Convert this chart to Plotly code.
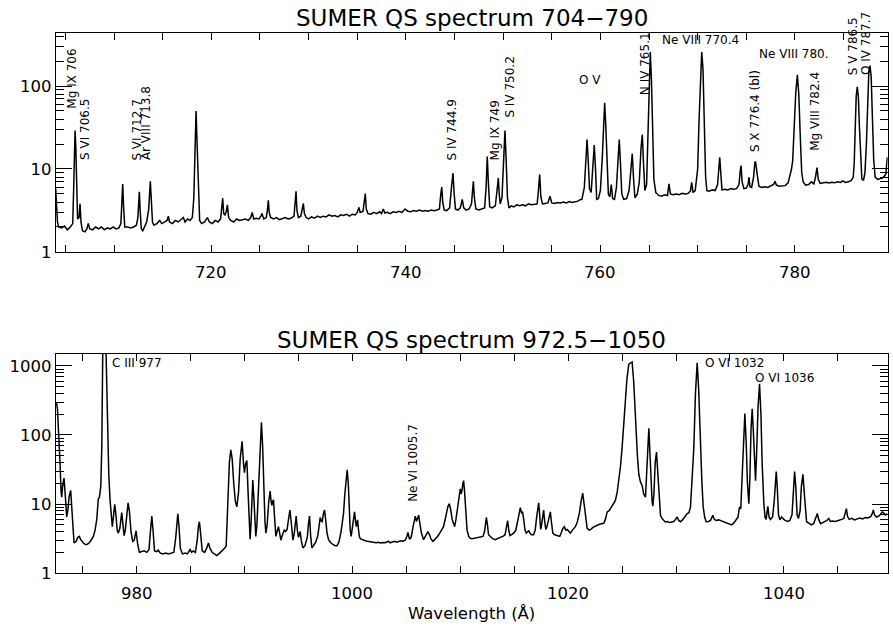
import plotly.graph_objects as go

# ---------------- data ----------------
top_wl = [
    704.00, 704.08, 704.18, 704.30, 704.6, 704.9, 705.2, 705.5, 705.75, 705.85,
    705.93, 705.99, 706.07, 706.16, 706.25, 706.40, 706.50, 706.60, 706.75, 707.0,
    707.2, 707.35, 707.5, 707.8, 708.1, 708.4, 708.7, 709.0, 709.3, 709.6,
    709.9, 710.2, 710.5, 710.7, 710.8, 710.89, 710.98, 711.1, 711.4, 711.7,
    712.0, 712.3, 712.45, 712.53, 712.60, 712.68, 712.8, 712.95, 713.1, 713.35,
    713.55, 713.65, 713.73, 713.82, 713.95, 714.1, 714.4, 714.7, 714.9, 715.2,
    715.45, 715.58, 715.7, 716.0, 716.3, 716.6, 716.9, 717.12, 717.3, 717.55,
    717.8, 718.05, 718.2, 718.3, 718.43, 718.55, 718.68, 718.8, 719.0, 719.3,
    719.6, 719.8, 720.1, 720.4, 720.7, 720.95, 721.08, 721.17, 721.27, 721.4,
    721.55, 721.65, 721.78, 722.0, 722.3, 722.6, 722.9, 723.2, 723.5, 723.8,
    724.05, 724.21, 724.35, 724.6, 724.9, 725.1, 725.2, 725.4, 725.65, 725.78,
    725.86, 725.95, 726.1, 726.4, 726.7, 727.0, 727.3, 727.6, 727.9, 728.2,
    728.5, 728.62, 728.71, 728.8, 728.95, 729.2, 729.35, 729.46, 729.57, 729.75,
    730.0, 730.3, 730.6, 730.9, 731.2, 731.5, 731.8, 732.1, 732.4, 732.7,
    733.0, 733.3, 733.6, 733.9, 734.2, 734.5, 734.8, 735.0, 735.18, 735.3,
    735.6, 735.75, 735.83, 735.93, 736.1, 736.4, 736.7, 737.0, 737.3, 737.5,
    737.68, 737.85, 738.1, 738.4, 738.7, 739.0, 739.3, 739.6, 739.91, 740.2,
    740.5, 740.8, 741.1, 741.4, 741.7, 742.0, 742.3, 742.6, 742.9, 743.2,
    743.45, 743.58, 743.69, 743.8, 743.95, 744.2, 744.5, 744.72, 744.85, 744.97,
    745.1, 745.35, 745.6, 745.8, 745.95, 746.2, 746.5, 746.75, 746.85, 746.94,
    747.05, 747.2, 747.5, 747.8, 748.1, 748.25, 748.37, 748.48, 748.62, 748.85,
    749.2, 749.42, 749.51, 749.6, 749.7, 749.88, 750.05, 750.19, 750.32, 750.45,
    750.6, 750.85, 751.1, 751.4, 751.7, 752.0, 752.3, 752.6, 752.9, 753.2,
    753.5, 753.63, 753.76, 753.88, 754.05, 754.3, 754.6, 754.82, 755.0, 755.3,
    755.6, 755.9, 756.2, 756.5, 756.8, 757.1, 757.4, 757.7, 757.95, 758.1,
    758.35, 758.5, 758.63, 758.76, 758.88, 759.05, 759.22, 759.37, 759.5, 759.62,
    759.8, 760.0, 760.2, 760.35, 760.44, 760.55, 760.68, 760.82, 760.97, 761.12,
    761.26, 761.45, 761.65, 761.82, 761.94, 762.06, 762.2, 762.4, 762.7, 762.95,
    763.15, 763.28, 763.4, 763.55, 763.8, 764.0, 764.18, 764.31, 764.43, 764.57,
    764.75, 764.9, 765.0, 765.13, 765.25, 765.37, 765.5, 765.7, 766.0, 766.3,
    766.6, 766.9, 767.05, 767.2, 767.5, 767.8, 768.1, 768.4, 768.7, 769.0,
    769.25, 769.39, 769.52, 769.75, 770.0, 770.15, 770.3, 770.42, 770.55, 770.68,
    770.82, 770.95, 771.2, 771.5, 771.8, 772.05, 772.18, 772.27, 772.38, 772.5,
    772.8, 773.1, 773.4, 773.7, 774.0, 774.25, 774.38, 774.46, 774.57, 774.75,
    775.0, 775.18, 775.28, 775.38, 775.55, 775.75, 775.88, 775.95, 776.1, 776.3,
    776.6, 776.9, 777.2, 777.5, 777.8, 777.95, 778.1, 778.4, 778.7, 779.0,
    779.3, 779.49, 779.65, 779.77, 779.92, 780.08, 780.25, 780.4, 780.55, 780.7,
    780.85, 781.1, 781.4, 781.7, 781.95, 782.12, 782.27, 782.4, 782.6, 782.9,
    783.2, 783.5, 783.8, 784.1, 784.4, 784.7, 784.9, 785.2, 785.5, 785.8,
    786.0, 786.1, 786.2, 786.3, 786.41, 786.52, 786.62, 786.75, 786.88, 787.05,
    787.2, 787.35, 787.48, 787.6, 787.72, 787.84, 787.96, 788.1, 788.25, 788.5,
    788.8, 789.0, 789.2, 789.35, 789.5,
]
top_flux = [
    5.8, 4.0, 2.3, 2.0, 1.95, 2.05, 1.85, 2.0, 2.2, 6.0,
    18, 29, 18, 5, 2.5, 2.6, 3.8, 2.3, 1.8, 1.75,
    1.9, 2.2, 1.9, 1.85, 2.0, 1.9, 2.0, 1.85, 1.95, 1.9,
    2.0, 1.9, 1.95, 2.2, 4.0, 6.6, 3.5, 2.0, 2.0, 1.95,
    2.0, 2.1, 2.6, 4.3, 5.3, 3.2, 1.9, 1.8, 2.0, 2.3,
    3.2, 5.5, 7.1, 4.5, 2.3, 2.1, 2.2, 2.4, 2.2, 2.3,
    2.4, 2.7, 2.3, 2.2, 2.4, 2.3, 2.5, 2.6, 2.3, 2.5,
    2.4, 2.6, 4.5, 15, 50, 18, 4, 2.4, 2.2, 2.3,
    2.6, 2.3, 2.2, 2.4, 2.3, 2.5, 3.5, 4.45, 2.9, 2.8,
    3.1, 3.7, 2.6, 2.4, 2.3, 2.5, 2.4, 2.45, 2.5, 2.4,
    2.6, 3.0, 2.5, 2.55, 2.5, 2.7, 2.9, 2.5, 2.6, 3.3,
    4.2, 3.0, 2.6, 2.5, 2.6, 2.45, 2.55, 2.6, 2.5, 2.55,
    2.7, 4.0, 5.4, 3.2, 2.6, 2.7, 3.2, 3.84, 2.9, 2.6,
    2.5, 2.65, 2.55, 2.7, 2.6, 2.7, 2.65, 2.8, 2.7, 2.75,
    2.65, 2.8, 2.75, 2.85, 2.7, 2.85, 2.8, 3.0, 3.45, 3.0,
    3.1, 4.3, 5.05, 3.3, 2.9, 2.85, 3.0, 2.9, 3.05, 2.9,
    3.3, 2.95, 3.0, 2.9, 3.05, 3.0, 3.1, 3.0, 3.3, 3.1,
    3.05, 3.15, 3.1, 3.2, 3.1, 3.15, 3.1, 3.2, 3.15, 3.2,
    3.3, 4.8, 6.07, 3.9, 3.2, 3.15, 3.4, 6.5, 8.9, 5.0,
    3.3, 3.2, 3.4, 4.3, 3.4, 3.2, 3.3, 3.8, 5.8, 7.1,
    4.5, 3.3, 3.2, 3.3, 3.4, 6, 14.1, 7, 3.5, 3.4,
    3.6, 6.2, 7.8, 5, 3.8, 4.5, 14, 29, 12, 4.5,
    3.4, 3.6, 3.5, 3.7, 3.6, 3.7, 3.6, 3.8, 3.7, 3.75,
    3.8, 5.5, 8.6, 4.6, 3.8, 3.85, 3.9, 4.7, 3.9, 3.85,
    3.95, 3.9, 4.0, 3.9, 4.05, 3.95, 4.0, 4.1, 4.3, 4.3,
    6, 16, 22.7, 12, 5.8, 5.2, 12, 19.4, 10, 4.3,
    4.4, 5.5, 14, 40, 63, 35, 12, 5.0, 4.6, 6.5,
    4.4, 4.3, 6, 16, 22.7, 12, 5.0, 4.3, 4.4, 5.5,
    12, 15.3, 8, 4.5, 5.0, 7, 18, 26, 12, 5.5,
    6.5, 30, 120, 257, 120, 30, 7.5, 5.2, 4.8, 4.7,
    4.9, 4.8, 6.6, 5.0, 4.9, 5.0, 4.9, 5.1, 5.0, 5.05,
    5.4, 6.9, 5.2, 5.5, 10, 40, 160, 257, 160, 40,
    8, 5.5, 5.4, 5.6, 5.5, 6.5, 11, 13.8, 9, 5.6,
    5.7, 5.6, 5.8, 5.7, 5.8, 6.5, 9.5, 11.0, 7.0, 5.8,
    5.9, 6.5, 7.96, 6.1, 6.0, 8, 12, 12.3, 9, 6.2,
    6.0, 6.1, 6.0, 6.2, 6.5, 7.1, 6.4, 6.2, 6.3, 6.3,
    6.8, 8.3, 10, 12.5, 30, 80, 136, 80, 25, 9,
    7.0, 6.4, 6.5, 7.0, 6.6, 8, 10.4, 7.5, 6.7, 6.8,
    6.9, 6.8, 6.9, 6.85, 7.0, 6.9, 7.2, 6.9, 7.0, 7.3,
    8.0, 12, 35, 75, 97.6, 75, 35, 12, 7.6, 7.3,
    9, 20, 70, 150, 176, 130, 45, 13, 8, 7.5,
    7.7, 7.8, 8.2, 8.7, 13.8,
]

bot_wl = [
    972.50, 972.58, 972.66, 972.78, 972.90, 973.00, 973.06, 973.14, 973.27, 973.38,
    973.47, 973.52, 973.62, 973.75, 973.89, 973.98, 974.08, 974.2, 974.4, 974.55,
    974.69, 974.85, 975.05, 975.25, 975.38, 975.55, 975.75, 975.99, 976.15, 976.3,
    976.45, 976.55, 976.68, 976.77, 976.86, 977.0, 977.17, 977.29, 977.42, 977.54,
    977.65, 977.75, 977.85, 977.97, 978.08, 978.2, 978.31, 978.45, 978.62, 978.72,
    978.84, 978.95, 979.08, 979.21, 979.33, 979.48, 979.64, 979.78, 979.95, 980.1,
    980.26, 980.45, 980.7, 980.95, 981.15, 981.28, 981.41, 981.53, 981.66, 981.85,
    982.0, 982.2, 982.45, 982.7, 982.95, 983.2, 983.45, 983.62, 983.72, 983.82,
    983.93, 984.05, 984.25, 984.5, 984.7, 984.86, 984.96, 985.1, 985.25, 985.45,
    985.62, 985.73, 985.82, 985.93, 986.08, 986.3, 986.5, 986.66, 986.8, 987.0,
    987.2, 987.43, 987.7, 987.95, 988.15, 988.3, 988.45, 988.6, 988.73, 988.86,
    989.0, 989.15, 989.29, 989.45, 989.6, 989.78, 989.9, 989.99, 990.1, 990.22,
    990.33, 990.45, 990.52, 990.6, 990.68, 990.77, 990.87, 990.97, 991.05, 991.15,
    991.3, 991.45, 991.57, 991.68, 991.8, 991.9, 991.98, 992.1, 992.25, 992.38,
    992.46, 992.54, 992.62, 992.69, 992.8, 992.91, 993.02, 993.15, 993.26, 993.37,
    993.5, 993.68, 993.8, 993.95, 994.08, 994.21, 994.33, 994.42, 994.49, 994.6,
    994.7, 994.79, 994.9, 995.0, 995.08, 995.16, 995.26, 995.41, 995.6, 995.82,
    995.93, 996.03, 996.13, 996.25, 996.4, 996.6, 996.8, 996.95, 997.02, 997.12,
    997.2, 997.32, 997.42, 997.52, 997.65, 997.79, 998.0, 998.2, 998.4, 998.57,
    998.75, 998.95, 999.1, 999.18, 999.3, 999.42, 999.52, 999.62, 999.72, 999.8,
    999.89, 1000.0, 1000.1, 1000.2, 1000.3, 1000.36, 1000.42, 1000.48, 1000.57, 1000.66,
    1000.8, 1001.0, 1001.2, 1001.4, 1001.6, 1001.8, 1002.0, 1002.2, 1002.4, 1002.6,
    1002.8, 1003.0, 1003.2, 1003.35, 1003.5, 1003.7, 1003.9, 1004.1, 1004.3, 1004.5,
    1004.7, 1004.9, 1005.05, 1005.15, 1005.3, 1005.45, 1005.6, 1005.72, 1005.83, 1005.93,
    1006.03, 1006.14, 1006.25, 1006.4, 1006.6, 1006.8, 1007.0, 1007.15, 1007.3, 1007.47,
    1007.7, 1007.9, 1008.1, 1008.3, 1008.45, 1008.65, 1008.85, 1008.98, 1009.1, 1009.25,
    1009.38, 1009.48, 1009.6, 1009.75, 1009.85, 1009.95, 1010.0, 1010.08, 1010.15, 1010.25,
    1010.31, 1010.4, 1010.5, 1010.63, 1010.78, 1010.93, 1011.1, 1011.3, 1011.5, 1011.7,
    1011.9, 1012.1, 1012.25, 1012.35, 1012.42, 1012.52, 1012.62, 1012.8, 1013.0, 1013.25,
    1013.45, 1013.7, 1013.95, 1014.15, 1014.3, 1014.39, 1014.5, 1014.6, 1014.75, 1014.95,
    1015.15, 1015.3, 1015.45, 1015.57, 1015.68, 1015.78, 1015.88, 1016.0, 1016.12, 1016.25,
    1016.35, 1016.45, 1016.6, 1016.8, 1016.95, 1017.08, 1017.2, 1017.27, 1017.36, 1017.45,
    1017.52, 1017.62, 1017.73, 1017.83, 1017.93, 1018.05, 1018.2, 1018.35, 1018.45, 1018.58,
    1018.75, 1018.95, 1019.1, 1019.22, 1019.35, 1019.5, 1019.65, 1019.78, 1019.9, 1020.05,
    1020.21, 1020.4, 1020.55, 1020.67, 1020.85, 1021.05, 1021.2, 1021.35, 1021.5, 1021.62,
    1021.76, 1021.95, 1022.1, 1022.3, 1022.5, 1022.69, 1022.9, 1023.1, 1023.3, 1023.45,
    1023.62, 1023.8, 1023.92, 1024.15, 1024.38, 1024.55, 1024.69, 1024.85, 1025.0, 1025.15,
    1025.31, 1025.45, 1025.62, 1025.78, 1025.93, 1026.08, 1026.2, 1026.3, 1026.42, 1026.55,
    1026.7, 1026.86, 1027.0, 1027.17, 1027.3, 1027.4, 1027.48, 1027.57, 1027.68, 1027.78,
    1027.85, 1027.95, 1028.07, 1028.19, 1028.3, 1028.42, 1028.56, 1028.7, 1028.85, 1029.0,
    1029.2, 1029.4, 1029.6, 1029.8, 1029.95, 1030.1, 1030.25, 1030.41, 1030.6, 1030.8,
    1031.03, 1031.2, 1031.34, 1031.5, 1031.65, 1031.8, 1031.96, 1032.1, 1032.27, 1032.4,
    1032.52, 1032.65, 1032.8, 1033.0, 1033.2, 1033.41, 1033.55, 1033.75, 1033.95, 1034.2,
    1034.45, 1034.7, 1034.95, 1035.15, 1035.35, 1035.55, 1035.75, 1035.85, 1035.91, 1036.0,
    1036.1, 1036.22, 1036.38, 1036.5, 1036.62, 1036.75, 1036.85, 1036.95, 1037.06, 1037.17,
    1037.28, 1037.37, 1037.48, 1037.6, 1037.74, 1037.87, 1037.98, 1038.06, 1038.14, 1038.25,
    1038.35, 1038.51, 1038.62, 1038.75, 1038.95, 1039.1, 1039.2, 1039.29, 1039.38, 1039.5,
    1039.62, 1039.78, 1039.9, 1040.1, 1040.35, 1040.55, 1040.75, 1040.88, 1040.99, 1041.1,
    1041.22, 1041.35, 1041.5, 1041.62, 1041.76, 1041.88, 1042.0, 1042.1, 1042.3, 1042.55,
    1042.75, 1042.95, 1043.1, 1043.22, 1043.4, 1043.6, 1043.8, 1043.98, 1044.17, 1044.3,
    1044.5, 1044.7, 1044.9, 1045.1, 1045.35, 1045.55, 1045.68, 1045.79, 1045.9, 1046.05,
    1046.3, 1046.55, 1046.8, 1047.05, 1047.3, 1047.55, 1047.8, 1048.05, 1048.18, 1048.29,
    1048.4, 1048.6, 1048.85, 1049.0, 1049.12, 1049.25, 1049.4, 1049.6,
]
bot_flux = [
    280, 290, 240, 120, 40, 15, 12.6, 18, 23.8, 14,
    7, 6.5, 8, 13, 15.7, 9, 4, 2.73, 2.9, 3.3,
    3.4, 3.0, 2.75, 2.6, 2.59, 2.7, 2.95, 3.4, 4.2, 5.9,
    11.9, 12.5, 18, 65, 1500, 3000, 1500, 194, 27, 11.3,
    6, 4.7, 6.5, 9.9, 7, 4.2, 3.8, 4.5, 7.5, 5,
    3.5, 4.2, 7.5, 10.4, 8, 4, 2.89, 3.0, 4.1, 2.6,
    2.01, 2.05, 2.1, 2.0, 2.2, 4, 6.7, 4, 2.1, 2.05,
    2.15, 1.95, 1.9, 1.95, 1.9, 1.95, 2.0, 3.2, 5.5, 7.2,
    4.8, 2.3, 1.9, 1.95, 1.9, 2.1, 2.2, 2.0, 2.1, 2.0,
    3.0, 4.8, 5.55, 3.8, 2.1, 2.0, 2.3, 2.73, 2.3, 2.0,
    1.9, 1.80, 1.95, 2.1, 2.3, 2.45, 8, 40, 61, 45,
    20, 11, 9.1, 15, 45, 81, 40, 28.5, 38, 42.7,
    15, 4.5, 3.1, 5, 14, 22.3, 12, 4.5, 3.4, 5,
    15, 70, 153, 70, 15, 5.5, 3.8, 5, 11, 15.4,
    11, 9.6, 11, 11.5, 6, 3.4, 4.0, 4.7, 3.8, 3.0,
    3.5, 4.2, 4.0, 4.3, 6, 8.2, 5.5, 3.5, 3.0, 3.6,
    5.5, 6.7, 4.2, 3.3, 3.6, 4.0, 3.0, 2.32, 2.5, 3.3,
    5.2, 6.7, 3.5, 2.32, 2.5, 2.8, 3.5, 5.5, 6.4, 5.7,
    5.6, 7.3, 8.2, 6, 3.8, 3.05, 2.75, 2.6, 2.5, 2.5,
    2.8, 4, 6, 7.3, 14, 25, 31.3, 20, 7, 4.2,
    3.4, 4.5, 6.5, 7.7, 5.5, 4.7, 5.3, 5.9, 4.2, 3.3,
    3.1, 3.0, 2.95, 2.9, 2.85, 2.8, 2.78, 2.75, 2.8, 2.73,
    2.78, 2.75, 2.82, 2.9, 2.75, 2.8, 2.9, 2.8, 2.85, 2.95,
    2.9, 3.0, 3.4, 3.87, 3.1, 3.3, 4.5, 6.0, 6.7, 5.6,
    6.3, 6.9, 5.3, 3.8, 3.05, 3.5, 4.0, 3.6, 3.1, 2.89,
    3.1, 3.4, 3.8, 4.3, 4.7, 6.5, 9.2, 10.1, 8.5, 6,
    5, 4.7, 6, 8.5, 11.0, 15, 16.6, 14, 15.5, 20,
    21.8, 15, 8, 4.2, 3.4, 3.2, 3.15, 3.2, 3.3, 3.3,
    3.35, 3.4, 4, 5.5, 6.4, 5, 3.6, 3.4, 3.15, 3.05,
    3.2, 3.3, 3.4, 3.6, 4.8, 5.75, 4.2, 3.5, 3.6, 3.8,
    4.2, 5.5, 8, 8.9, 7.5, 7.6, 6, 4.2, 3.8, 4.0,
    4.1, 3.8, 3.6, 3.6, 4.2, 6.5, 9.8, 10.4, 7, 4.3,
    4.8, 7, 8.2, 5.5, 4.3, 4.8, 6.5, 7.7, 5.5, 3.8,
    3.6, 3.5, 3.45, 3.4, 3.8, 4.4, 4.7, 4.2, 4.3, 4.0,
    3.8, 4.2, 4.4, 4.7, 5.5, 7.5, 11, 14.4, 9.5, 6,
    4.45, 4.2, 4.3, 4.6, 4.8, 5.0, 5.1, 5.2, 5.26, 6.0,
    7.7, 8.0, 8.6, 9.8, 11.3, 15, 21.8, 35, 65, 140,
    335, 650, 1060, 1120, 1140, 580, 220, 112, 50, 27,
    21, 18.5, 14, 12.6, 30, 90, 125, 60, 18, 11,
    9.3, 14, 40, 56.5, 30, 12, 6.9, 6.2, 5.9, 5.5,
    5.6, 5.4, 5.5, 5.6, 6.0, 6.5, 5.8, 5.55, 5.9, 6.5,
    7.3, 7.5, 9.1, 25, 65, 400, 1110, 450, 65, 20,
    9.1, 6.5, 5.55, 5.6, 5.8, 6.9, 6.0, 5.8, 5.9, 5.7,
    5.6, 5.4, 5.2, 5.0, 5.3, 5.8, 6.5, 8.5, 9.1, 8.5,
    20, 80, 205, 80, 20, 10.1, 25, 120, 240, 110,
    35, 21.8, 60, 250, 550, 200, 40, 16, 10.1, 6.5,
    6.0, 9.3, 6.5, 6.0, 6.5, 11, 24, 29.5, 18, 7,
    5.9, 6.5, 6.2, 5.8, 5.6, 5.8, 7, 18, 29.5, 18,
    7, 6.2, 8, 18, 27, 15, 7, 5.55, 5.3, 5.0,
    5.2, 6.5, 7.3, 6, 5.2, 5.4, 5.6, 5.8, 6.2, 5.6,
    5.7, 5.6, 5.7, 5.9, 6.0, 6.2, 7.5, 8.6, 6.6, 6.0,
    6.2, 5.9, 6.1, 6.3, 6.1, 6.4, 6.3, 6.6, 7.2, 8.2,
    6.9, 6.5, 6.8, 7.3, 7.7, 7.4, 7.0, 7.2,
]

assert len(top_wl) == len(top_flux)
assert len(bot_wl) == len(bot_flux)

top_title = "SUMER QS spectrum 704\u2212790"
bot_title = "SUMER QS spectrum 972.5\u22121050"
x_title = "Wavelength (\u00c5)"

top_xticklabels = [720, 740, 760, 780]
bot_xticklabels = [980, 1000, 1020, 1040]

# line identifications: (text, wavelength position, log10 height)
top_vlabels = [
    ("Mg IX 706", 705.65, 1.70),
    ("S VI 706.5", 707.02, 1.08),
    ("S VI 712.7", 712.33, 1.08),
    ("Ar VIII 713.8", 713.36, 1.08),
    ("S IV 744.9", 744.71, 1.08),
    ("Mg IX 749", 749.17, 1.08),
    ("S IV 750.2", 750.71, 1.59),
    ("N IV 765.1", 764.57, 1.87),
    ("S X 776.4 (bl)", 775.90, 1.18),
    ("Mg VIII 782.4", 782.07, 1.19),
    ("S V 786.5", 786.00, 2.11),
    ("O IV 787.7", 787.38, 2.11),
]
top_hlabels = [
    ("O V", 758.93, 2.07, "center"),
    ("Ne VIII 770.4", 766.13, 2.56, "left"),
    ("Ne VIII 780.", 776.07, 2.38, "left"),
]
bot_vlabels = [
    ("Ne VI 1005.7", 1005.60, 1.00),
]
bot_hlabels = [
    ("C III 977", 977.54, 3.035, "left"),
    ("O VI 1032", 1032.52, 3.035, "left"),
    ("O VI 1036", 1037.16, 2.83, "left"),
]

# ---------------- figure ----------------
FONT = "DejaVu Sans"
W, H = 893, 637


def px_x(p):
    return p / W


def px_y(p):
    return 1 - p / H


def minor_vals(vmax):
    return [m * 10 ** e for e in range(4) for m in range(2, 10) if m * 10 ** e <= vmax]


x_dom = [px_x(55.7), px_x(887.7)]
top_dom = [px_y(256.0), px_y(33.3)]
bot_dom = [px_y(582.3), px_y(359.3)]

fig = go.Figure()
fig.add_trace(go.Scatter(x=top_wl, y=top_flux, mode="lines",
                         line=dict(color="black", width=1.5),
                         xaxis="x", yaxis="y", hoverinfo="skip", showlegend=False))
fig.add_trace(go.Scatter(x=bot_wl, y=bot_flux, mode="lines",
                         line=dict(color="black", width=1.5),
                         xaxis="x2", yaxis="y2", hoverinfo="skip", showlegend=False))

tickfont = dict(family=FONT, size=16.5, color="black")
common_x = dict(showline=True, linecolor="black", linewidth=1, mirror="ticks",
                ticks="inside", ticklen=7, tickwidth=1, tickcolor="black",
                showgrid=False, zeroline=False, showticklabels=False, domain=x_dom)
common_y = dict(type="log", showline=True, linecolor="black", linewidth=1,
                mirror="ticks", ticks="inside", ticklen=16, tickwidth=1,
                tickcolor="black", showgrid=False, zeroline=False,
                tickfont=tickfont, dtick=1)
minor_x = dict(ticks="inside", ticklen=7, tickwidth=1, tickcolor="black", dtick=5)

fig.update_layout(
    width=W, height=H, margin=dict(l=0, r=0, t=0, b=0),
    paper_bgcolor="white", plot_bgcolor="white", showlegend=False,
    xaxis=dict(common_x, range=[704, 789.54], anchor="y", dtick=20, tick0=720,
               minor=minor_x),
    yaxis=dict(common_y, domain=top_dom, anchor="x", range=[0, 2.6415],
               minor=dict(ticks="inside", ticklen=8, tickwidth=1, tickcolor="black",
                          tickvals=minor_vals(438))),
    xaxis2=dict(common_x, range=[972.5, 1049.62], anchor="y2", dtick=20, tick0=980,
                minor=minor_x),
    yaxis2=dict(common_y, domain=bot_dom, anchor="x2", range=[0, 3.177],
                minor=dict(ticks="inside", ticklen=8, tickwidth=1, tickcolor="black",
                           tickvals=minor_vals(1500))),
)

ann = []
lab_font = dict(family=FONT, size=12, color="black")
for ref, vl, hl in (("", top_vlabels, top_hlabels), ("2", bot_vlabels, bot_hlabels)):
    for txt, wl, ly in vl:
        ann.append(dict(text=txt, x=wl, y=ly, xref="x" + ref, yref="y" + ref,
                        textangle=-90, xanchor="center", yanchor="bottom",
                        showarrow=False, font=lab_font))
    for txt, wl, ly, xa in hl:
        ann.append(dict(text=txt, x=wl, y=ly, xref="x" + ref, yref="y" + ref,
                        xanchor=xa, yanchor="middle", showarrow=False, font=lab_font))

# x tick labels
for ref, vals, ypx in (("", top_xticklabels, 276.5), ("2", bot_xticklabels, 602.8)):
    for v in vals:
        ann.append(dict(text=str(v), x=v, y=px_y(ypx), xref="x" + ref, yref="paper",
                        xanchor="center", yanchor="middle", showarrow=False,
                        font=tickfont))

xc = (x_dom[0] + x_dom[1]) / 2
title_font = dict(family=FONT, size=23, color="black")
ann.append(dict(text=top_title, x=xc, y=px_y(18.5), xref="paper", yref="paper",
                xanchor="center", yanchor="middle", showarrow=False, font=title_font))
ann.append(dict(text=bot_title, x=xc, y=px_y(345.5), xref="paper", yref="paper",
                xanchor="center", yanchor="middle", showarrow=False, font=title_font))
ann.append(dict(text=x_title, x=xc, y=px_y(623), xref="paper", yref="paper",
                xanchor="center", yanchor="middle", showarrow=False,
                font=dict(family=FONT, size=16.5, color="black")))
fig.update_layout(annotations=ann)

# remove the browser's default 8px page margin so the figure fills the window
page_css = ("document.body.style.margin='0px';"
            "document.body.style.padding='0px';"
            "document.documentElement.style.overflow='hidden';")
fig.write_html("out.html", post_script=page_css,
               config={"displayModeBar": False, "staticPlot": True})
